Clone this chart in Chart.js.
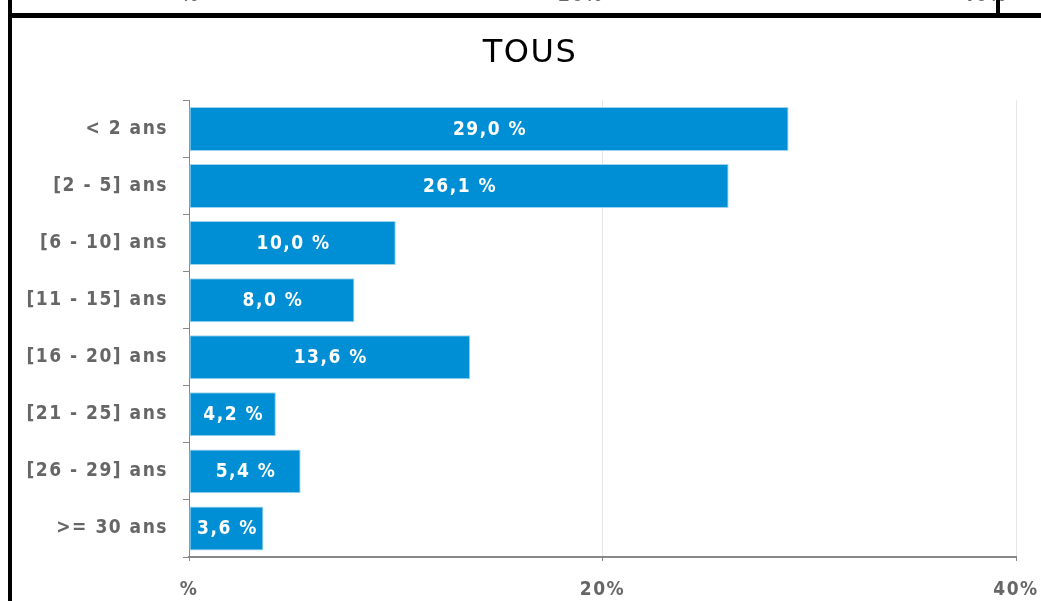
<!DOCTYPE html>
<html>
<head>
<meta charset="utf-8">
<script src="https://cdn.jsdelivr.net/npm/chart.js@4"></script>
<style>
  html, body { margin:0; padding:0; background:#fff; }
  body { width:1041px; height:601px; position:relative; overflow:hidden; }
  #chart { position:absolute; left:0; top:0; }
  .line { position:absolute; background:#000; }
  .prev { position:absolute; top:-17px; font:bold 19px 'DejaVu Sans Condensed', 'DejaVu Sans'; letter-spacing:1.5px; color:#666; }
</style>
</head>
<body>
<canvas id="chart" width="1041" height="601"></canvas>
<!-- bottom of the chart above, cut by the frame -->
<span class="prev" style="left:181px">%</span>
<span class="prev" style="left:558px">20%</span>
<span class="prev" style="left:962px">40%</span>
<div class="line" style="left:8px;top:0;width:4px;height:601px"></div>
<div class="line" style="left:8px;top:13px;width:1033px;height:5px"></div>
<div class="line" style="left:996px;top:0;width:4px;height:14px"></div>
<script>
const categories = ['< 2 ans', '[2 - 5] ans', '[6 - 10] ans', '[11 - 15] ans', '[16 - 20] ans', '[21 - 25] ans', '[26 - 29] ans', '>= 30 ans'];
const values = [29.0, 26.1, 10.0, 8.0, 13.6, 4.2, 5.4, 3.6];
const xTicks = [0, 20, 40];
const xTickLabels = ['%', '20%', '40%'];

const fontFamily = "'DejaVu Sans Condensed', 'DejaVu Sans', sans-serif";
const fmt = (v) => v.toFixed(1).replace('.', ',') + ' %';

// the original text is a bit spaced out
const spacing = {
  id: 'spacing',
  beforeUpdate(chart){ chart.ctx.letterSpacing = '1.5px'; },
  beforeDraw(chart){ chart.ctx.letterSpacing = '1.5px'; }
};

// white value labels in the middle of each bar
const barLabels = {
  id: 'barLabels',
  afterDatasetsDraw(chart){
    const ctx = chart.ctx;
    const meta = chart.getDatasetMeta(0);
    ctx.save();
    ctx.fillStyle = '#fff';
    ctx.font = 'bold 19px ' + fontFamily;
    ctx.textAlign = 'center';
    ctx.textBaseline = 'middle';
    meta.data.forEach((bar, i) => {
      ctx.fillText(fmt(values[i]), (bar.base + bar.x) / 2 + 1, bar.y + 1);
    });
    ctx.restore();
  }
};

new Chart(document.getElementById('chart'), {
  type: 'bar',
  data: {
    labels: categories,
    datasets: [{
      data: values,
      backgroundColor: '#008fd5',
      borderColor: '#9fd3ee',
      borderWidth: 1,
      borderSkipped: false,
      barPercentage: 0.77,
      categoryPercentage: 1
    }]
  },
  options: {
    indexAxis: 'y',
    responsive: false,
    animation: false,
    devicePixelRatio: 1,
    layout: { padding: { left: 19, right: 0, top: 0, bottom: 0 } },
    plugins: {
      legend: { display: false },
      tooltip: { enabled: false },
      title: {
        display: true,
        text: 'TOUS',
        color: '#000',
        font: { family: "'DejaVu Sans', sans-serif", size: 32, weight: 'normal', lineHeight: 1.2 },
        padding: { top: 34, bottom: 28 }
      }
    },
    scales: {
      x: {
        min: 0, max: 40,
        afterBuildTicks: (s) => { s.ticks = xTicks.map(v => ({ value: v })); },
        afterFit: (s) => { s.height = 44; s.paddingRight = 25; },
        ticks: {
          color: '#666',
          padding: 18,
          maxRotation: 0,
          font: { family: fontFamily, size: 19, weight: 'bold' },
          callback: (v) => xTickLabels[xTicks.indexOf(v)]
        },
        grid: { color: '#e6e6e6', tickColor: '#888', tickLength: 4 },
        border: { color: '#888', width: 2 }
      },
      y: {
        afterFit: (s) => { s.width = 170; },
        ticks: {
          color: '#666',
          padding: 15,
          font: { family: fontFamily, size: 19, weight: 'bold' }
        },
        grid: { drawOnChartArea: false, color: '#888', tickLength: 6 },
        border: { color: '#888', width: 1 }
      }
    }
  },
  plugins: [spacing, barLabels]
});
</script>
</body>
</html>
